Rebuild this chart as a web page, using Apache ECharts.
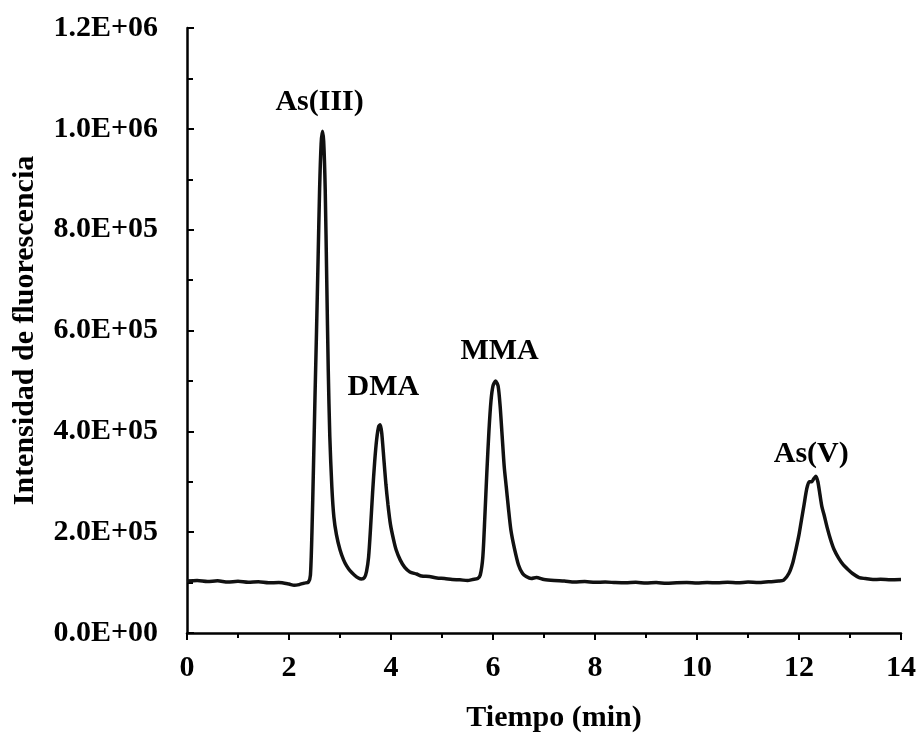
<!DOCTYPE html>
<html>
<head>
<meta charset="utf-8">
<script src="https://cdn.jsdelivr.net/npm/echarts@6/dist/echarts.min.js"></script>
<style>
  html, body { margin: 0; padding: 0; background: #fff; }
  #chart { width: 919px; height: 738px; }
</style>
</head>
<body>
<div id="chart"></div>
<script>
// * cromatograma - especiación de arsénico
const tiempo = [
  0, 0.2, 0.4, 0.6, 0.8, 1.0, 1.2, 1.4, 1.6, 1.8, 2.0, 2.1, 2.2, 2.3, 2.38,
  2.42, 2.45, 2.48, 2.51, 2.54, 2.57, 2.60, 2.63, 2.655, 2.68, 2.71, 2.74, 2.77, 2.80,
  2.84, 2.88, 2.93, 3.0, 3.07, 3.13, 3.2, 3.28, 3.36, 3.42,
  3.48, 3.52, 3.56, 3.60, 3.64, 3.68, 3.72, 3.76, 3.79, 3.82, 3.86, 3.90, 3.94, 3.99,
  4.05, 4.1, 4.18, 4.27, 4.37, 4.5, 4.6, 4.75, 4.9, 5.05, 5.2, 5.35, 5.5, 5.6, 5.7,
  5.75, 5.8, 5.84, 5.88, 5.92, 5.96, 6.0, 6.05, 6.1, 6.14, 6.18, 6.22, 6.26, 6.3,
  6.35, 6.42, 6.5, 6.58, 6.65, 6.75, 6.85, 7.0, 7.2, 7.4, 7.6, 7.8, 8.0, 8.2, 8.4,
  8.6, 8.8, 9.0, 9.2, 9.4, 9.6, 9.8, 10.0, 10.2, 10.4, 10.6, 10.8, 11.0, 11.2, 11.4,
  11.6, 11.7, 11.8, 11.88, 11.94, 12.0, 12.05, 12.1, 12.15, 12.2, 12.25, 12.29, 12.33,
  12.37, 12.41, 12.45, 12.49, 12.55, 12.62, 12.69, 12.78, 12.87, 12.95, 13.05, 13.18,
  13.3, 13.45, 13.6, 13.8, 14.0
]
const intensidad = [
  103000, 104000, 102000, 103500, 101000, 102500, 100500, 101500, 99500, 100000, 97000, 94500, 96000, 99000, 101000,
  115000, 200000, 330000, 470000, 600000, 740000, 880000, 970000, 995000, 975000, 880000, 700000, 520000, 390000,
  290000, 230000, 195000, 165000, 145000, 133000, 123000, 115000, 109000, 107000,
  110000, 122000, 150000, 210000, 280000, 340000, 385000, 410000, 413000, 395000, 345000, 295000, 255000, 215000,
  185000, 165000, 145000, 130000, 121000, 117000, 113000, 112000, 109000, 108000, 106000, 105500, 104000, 106000, 108000,
  115000, 150000, 230000, 320000, 400000, 460000, 490000, 500000, 490000, 450000, 390000, 330000, 290000, 250000,
  205000, 168000, 135000, 118000, 112000, 108000, 110000, 106000, 104000, 103000, 101000, 102000, 100500, 101000, 100000,
  99500, 100500, 99000, 100000, 98500, 99500, 100000, 99000, 100000, 99500, 100500, 99500, 101000, 100000, 101500,
  103000, 105000, 118000, 140000, 166000, 195000, 225000, 255000, 285000, 300000, 300000, 306000, 311000,
  300000, 275000, 250000, 235000, 210000, 185000, 165000, 148000, 135000, 127000, 118000, 110000,
  108000, 106000, 106500, 105500, 106000
]

// ? etiquetas de los picos (posición del texto)
const picoNombres = ['As(III)', 'DMA', 'MMA', 'As(V)']
const picoTiempos = [2.60, 3.85, 6.13, 12.24]
const picoNiveles = [1053000, 487000, 558000, 354000]

const yTicks = [0, 200000, 400000, 600000, 800000, 1000000, 1200000]

const fuente = '"Liberation Serif", "Times New Roman", serif'

function formatoCientifico(v) {
  if (v === 0) return '0.0E+00'
  const exp = Math.floor(Math.log10(v))
  const man = (v / Math.pow(10, exp)).toFixed(1)
  return man + 'E+' + String(exp).padStart(2, '0')
}

const chart = echarts.init(document.getElementById('chart'))

const option = {
  backgroundColor: '#fff',
  animation: false,
  grid: { left: 187, right: 17, top: 28, bottom: 104 },
  xAxis: {
    type: 'value',
    min: 0,
    max: 14,
    interval: 2,
    name: 'Tiempo (min)',
    nameLocation: 'middle',
    nameGap: 70,
    nameTextStyle: { fontFamily: fuente, fontWeight: 'bold', fontSize: 30, color: '#000', padding: [0, 0, 0, 20] },
    axisLine: { show: true, onZero: false, lineStyle: { color: '#000', width: 2.5 } },
    axisTick: { show: true, inside: false, length: 7, lineStyle: { color: '#000', width: 2 } },
    minorTick: { show: true, splitNumber: 2, length: 5, lineStyle: { color: '#000', width: 2 } },
    splitLine: { show: false },
    axisLabel: { fontFamily: fuente, fontWeight: 'bold', fontSize: 30, color: '#000', margin: 20 }
  },
  yAxis: {
    type: 'value',
    min: 0,
    max: 1200000,
    interval: 200000,
    name: 'Intensidad de fluorescencia',
    nameLocation: 'middle',
    nameGap: 147,
    nameTextStyle: { fontFamily: fuente, fontWeight: 'bold', fontSize: 30, color: '#000' },
    axisLine: { show: true, lineStyle: { color: '#000', width: 2.5 } },
    axisTick: { show: true, inside: true, length: 7, lineStyle: { color: '#000', width: 2 } },
    minorTick: { show: true, splitNumber: 2, length: 6, lineStyle: { color: '#000', width: 2 } },
    splitLine: { show: false },
    axisLabel: {
      fontFamily: fuente, fontWeight: 'bold', fontSize: 30, color: '#000', margin: 29,
      formatter: v => yTicks.includes(v) ? formatoCientifico(v) : ''
    }
  },
  series: [
    {
      name: 'cromatograma',
      type: 'line',
      data: tiempo.map((t, i) => [t, intensidad[i]]),
      showSymbol: false,
      smooth: 0.25,
      lineStyle: { color: '#111', width: 3.5 }
    },
    {
      name: 'picos',
      type: 'scatter',
      symbolSize: 0,
      itemStyle: { opacity: 1 },
      data: picoTiempos.map((t, i) => ({ value: [t, picoNiveles[i]], name: picoNombres[i] })),
      label: {
        show: true,
        position: 'inside',
        formatter: p => p.name,
        fontFamily: fuente,
        fontWeight: 'bold',
        fontSize: 30,
        color: '#000'
      }
    }
  ]
}

chart.setOption(option)
</script>
</body>
</html>
